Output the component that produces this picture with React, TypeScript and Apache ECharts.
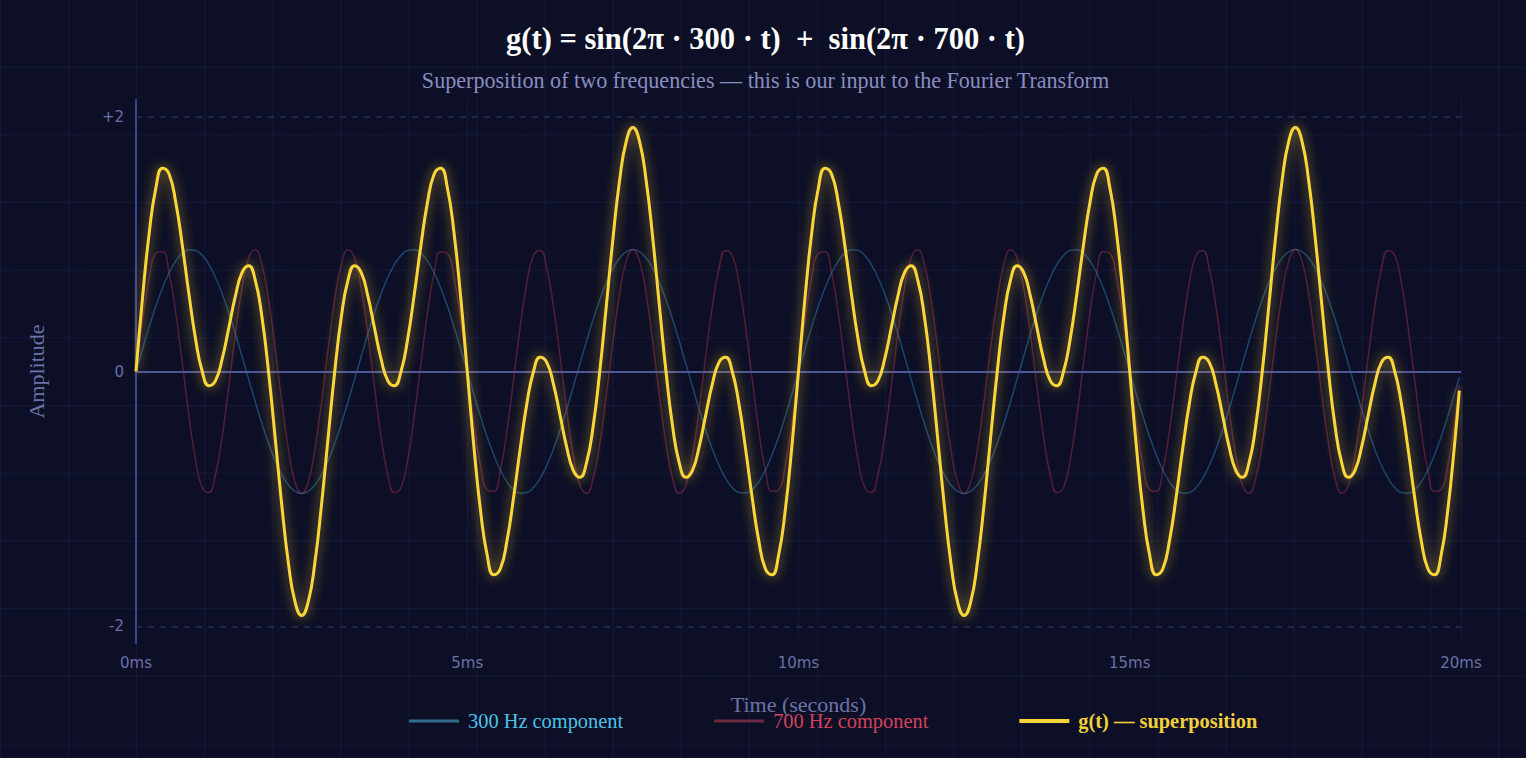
import React, { useEffect, useRef } from "react";
import * as echarts from "echarts";

// Time of each sample, in milliseconds
const T_MS = [
  0, 0.1, 0.2, 0.3, 0.4, 0.5, 0.6, 0.7, 0.8, 0.9,
  1, 1.1, 1.2, 1.3, 1.4, 1.5, 1.6, 1.7, 1.8, 1.9,
  2, 2.1, 2.2, 2.3, 2.4, 2.5, 2.6, 2.7, 2.8, 2.9,
  3, 3.1, 3.2, 3.3, 3.4, 3.5, 3.6, 3.7, 3.8, 3.9,
  4, 4.1, 4.2, 4.3, 4.4, 4.5, 4.6, 4.7, 4.8, 4.9,
  5, 5.1, 5.2, 5.3, 5.4, 5.5, 5.6, 5.7, 5.8, 5.9,
  6, 6.1, 6.2, 6.3, 6.4, 6.5, 6.6, 6.7, 6.8, 6.9,
  7, 7.1, 7.2, 7.3, 7.4, 7.5, 7.6, 7.7, 7.8, 7.9,
  8, 8.1, 8.2, 8.3, 8.4, 8.5, 8.6, 8.7, 8.8, 8.9,
  9, 9.1, 9.2, 9.3, 9.4, 9.5, 9.6, 9.7, 9.8, 9.9,
  10, 10.1, 10.2, 10.3, 10.4, 10.5, 10.6, 10.7, 10.8, 10.9,
  11, 11.1, 11.2, 11.3, 11.4, 11.5, 11.6, 11.7, 11.8, 11.9,
  12, 12.1, 12.2, 12.3, 12.4, 12.5, 12.6, 12.7, 12.8, 12.9,
  13, 13.1, 13.2, 13.3, 13.4, 13.5, 13.6, 13.7, 13.8, 13.9,
  14, 14.1, 14.2, 14.3, 14.4, 14.5, 14.6, 14.7, 14.8, 14.9,
  15, 15.1, 15.2, 15.3, 15.4, 15.5, 15.6, 15.7, 15.8, 15.9,
  16, 16.1, 16.2, 16.3, 16.4, 16.5, 16.6, 16.7, 16.8, 16.9,
  17, 17.1, 17.2, 17.3, 17.4, 17.5, 17.6, 17.7, 17.8, 17.9,
  18, 18.1, 18.2, 18.3, 18.4, 18.5, 18.6, 18.7, 18.8, 18.9,
  19, 19.1, 19.2, 19.3, 19.4, 19.5, 19.6, 19.7, 19.8, 19.9,
  19.975,
];

// 300 Hz component (values read against the picture's amplitude axis)
const WAVE_300 = [
  0, 0.179, 0.352, 0.513, 0.655, 0.774, 0.866, 0.927, 0.955, 0.949,
  0.91, 0.839, 0.737, 0.61, 0.461, 0.296, 0.12, -0.06, -0.238, -0.408,
  -0.563, -0.698, -0.808, -0.89, -0.94, -0.957, -0.94, -0.89, -0.808, -0.698,
  -0.563, -0.408, -0.238, -0.06, 0.12, 0.296, 0.461, 0.61, 0.737, 0.839,
  0.91, 0.949, 0.955, 0.927, 0.866, 0.774, 0.655, 0.513, 0.352, 0.179,
  0, -0.179, -0.352, -0.513, -0.655, -0.774, -0.866, -0.927, -0.955, -0.949,
  -0.91, -0.839, -0.737, -0.61, -0.461, -0.296, -0.12, 0.06, 0.238, 0.408,
  0.563, 0.698, 0.808, 0.89, 0.94, 0.957, 0.94, 0.89, 0.808, 0.698,
  0.563, 0.408, 0.238, 0.06, -0.12, -0.296, -0.461, -0.61, -0.737, -0.839,
  -0.91, -0.949, -0.955, -0.927, -0.866, -0.774, -0.655, -0.513, -0.352, -0.179,
  0, 0.179, 0.352, 0.513, 0.655, 0.774, 0.866, 0.927, 0.955, 0.949,
  0.91, 0.839, 0.737, 0.61, 0.461, 0.296, 0.12, -0.06, -0.238, -0.408,
  -0.563, -0.698, -0.808, -0.89, -0.94, -0.957, -0.94, -0.89, -0.808, -0.698,
  -0.563, -0.408, -0.238, -0.06, 0.12, 0.296, 0.461, 0.61, 0.737, 0.839,
  0.91, 0.949, 0.955, 0.927, 0.866, 0.774, 0.655, 0.513, 0.352, 0.179,
  0, -0.179, -0.352, -0.513, -0.655, -0.774, -0.866, -0.927, -0.955, -0.949,
  -0.91, -0.839, -0.737, -0.61, -0.461, -0.296, -0.12, 0.06, 0.238, 0.408,
  0.563, 0.698, 0.808, 0.89, 0.94, 0.957, 0.94, 0.89, 0.808, 0.698,
  0.563, 0.408, 0.238, 0.06, -0.12, -0.296, -0.461, -0.61, -0.737, -0.839,
  -0.91, -0.949, -0.955, -0.927, -0.866, -0.774, -0.655, -0.513, -0.352, -0.179,
  -0.045,
];

// 700 Hz component
const WAVE_700 = [
  0, 0.408, 0.737, 0.927, 0.94, 0.774, 0.461, 0.06, -0.352, -0.698,
  -0.91, -0.949, -0.808, -0.513, -0.12, 0.296, 0.655, 0.89, 0.955, 0.839,
  0.563, 0.179, -0.238, -0.61, -0.866, -0.957, -0.866, -0.61, -0.238, 0.179,
  0.563, 0.839, 0.955, 0.89, 0.655, 0.296, -0.12, -0.513, -0.808, -0.949,
  -0.91, -0.698, -0.352, 0.06, 0.461, 0.774, 0.94, 0.927, 0.737, 0.408,
  0, -0.408, -0.737, -0.927, -0.94, -0.774, -0.461, -0.06, 0.352, 0.698,
  0.91, 0.949, 0.808, 0.513, 0.12, -0.296, -0.655, -0.89, -0.955, -0.839,
  -0.563, -0.179, 0.238, 0.61, 0.866, 0.957, 0.866, 0.61, 0.238, -0.179,
  -0.563, -0.839, -0.955, -0.89, -0.655, -0.296, 0.12, 0.513, 0.808, 0.949,
  0.91, 0.698, 0.352, -0.06, -0.461, -0.774, -0.94, -0.927, -0.737, -0.408,
  0, 0.408, 0.737, 0.927, 0.94, 0.774, 0.461, 0.06, -0.352, -0.698,
  -0.91, -0.949, -0.808, -0.513, -0.12, 0.296, 0.655, 0.89, 0.955, 0.839,
  0.563, 0.179, -0.238, -0.61, -0.866, -0.957, -0.866, -0.61, -0.238, 0.179,
  0.563, 0.839, 0.955, 0.89, 0.655, 0.296, -0.12, -0.513, -0.808, -0.949,
  -0.91, -0.698, -0.352, 0.06, 0.461, 0.774, 0.94, 0.927, 0.737, 0.408,
  0, -0.408, -0.737, -0.927, -0.94, -0.774, -0.461, -0.06, 0.352, 0.698,
  0.91, 0.949, 0.808, 0.513, 0.12, -0.296, -0.655, -0.89, -0.955, -0.839,
  -0.563, -0.179, 0.238, 0.61, 0.866, 0.957, 0.866, 0.61, 0.238, -0.179,
  -0.563, -0.839, -0.955, -0.89, -0.655, -0.296, 0.12, 0.513, 0.808, 0.949,
  0.91, 0.698, 0.352, -0.06, -0.461, -0.774, -0.94, -0.927, -0.737, -0.408,
  -0.105,
];

// g(t) superposition
const SUPERPOSITION = [
  0, 0.587, 1.09, 1.44, 1.595, 1.548, 1.327, 0.987, 0.603, 0.252,
  0, -0.111, -0.071, 0.097, 0.341, 0.591, 0.775, 0.83, 0.717, 0.431,
  0, -0.518, -1.046, -1.5, -1.806, -1.914, -1.806, -1.5, -1.046, -0.518,
  0, 0.431, 0.717, 0.83, 0.775, 0.591, 0.341, 0.097, -0.071, -0.111,
  0, 0.252, 0.603, 0.987, 1.327, 1.548, 1.595, 1.44, 1.09, 0.587,
  0, -0.587, -1.09, -1.44, -1.595, -1.548, -1.327, -0.987, -0.603, -0.252,
  0, 0.111, 0.071, -0.097, -0.341, -0.591, -0.775, -0.83, -0.717, -0.431,
  0, 0.518, 1.046, 1.5, 1.806, 1.914, 1.806, 1.5, 1.046, 0.518,
  0, -0.431, -0.717, -0.83, -0.775, -0.591, -0.341, -0.097, 0.071, 0.111,
  0, -0.252, -0.603, -0.987, -1.327, -1.548, -1.595, -1.44, -1.09, -0.587,
  0, 0.587, 1.09, 1.44, 1.595, 1.548, 1.327, 0.987, 0.603, 0.252,
  0, -0.111, -0.071, 0.097, 0.341, 0.591, 0.775, 0.83, 0.717, 0.431,
  0, -0.518, -1.046, -1.5, -1.806, -1.914, -1.806, -1.5, -1.046, -0.518,
  0, 0.431, 0.717, 0.83, 0.775, 0.591, 0.341, 0.097, -0.071, -0.111,
  0, 0.252, 0.603, 0.987, 1.327, 1.548, 1.595, 1.44, 1.09, 0.587,
  0, -0.587, -1.09, -1.44, -1.595, -1.548, -1.327, -0.987, -0.603, -0.252,
  0, 0.111, 0.071, -0.097, -0.341, -0.591, -0.775, -0.83, -0.717, -0.431,
  0, 0.518, 1.046, 1.5, 1.806, 1.914, 1.806, 1.5, 1.046, 0.518,
  0, -0.431, -0.717, -0.83, -0.775, -0.591, -0.341, -0.097, 0.071, 0.111,
  0, -0.252, -0.603, -0.987, -1.327, -1.548, -1.595, -1.44, -1.09, -0.587,
  -0.15,
];

const Y_LABEL_VALUES = [-2, 0, 2];
const X_TICK_STEP_MS = 5;
const SERIES_NAMES = ["300 Hz component", "700 Hz component", "g(t) — superposition"];

const SERIF = '"Liberation Serif", "Times New Roman", serif';
const SANS = '"DejaVu Sans", sans-serif';

const pairs = (ys: number[]) => T_MS.map((t, i) => [t, ys[i]]);

export default function App() {
  const ref = useRef<HTMLDivElement>(null);

  useEffect(() => {
    if (!ref.current) return;
    const chart = echarts.init(ref.current, null, { renderer: "svg" });
    chart.setOption({
      animation: false,
      backgroundColor: "transparent",
      title: {
        text: "g(t) = sin(2π · 300 · t)  +  sin(2π · 700 · t)",
        subtext: "Superposition of two frequencies — this is our input to the Fourier Transform",
        left: 760.5,
        textAlign: "center",
        top: 18,
        itemGap: 15,
        textStyle: { color: "#ffffff", fontFamily: SERIF, fontWeight: "bold", fontSize: 30.5 },
        subtextStyle: { color: "#8a8dc0", fontFamily: SERIF, fontSize: 22.1 },
      },
      legend: {
        left: 404,
        top: 706,
        itemWidth: 50,
        itemHeight: 14,
        itemGap: 91,
        textStyle: { fontFamily: SERIF, fontSize: 20.4, padding: [0, 0, 0, 4] },
        data: [
          {
            name: SERIES_NAMES[0],
            icon: "path://M0,0H50V3H0Z",
            itemStyle: { color: "#2e6d8c" },
            textStyle: { color: "#4fc1e6" },
          },
          {
            name: SERIES_NAMES[1],
            icon: "path://M0,0H50V3H0Z",
            itemStyle: { color: "#6b2a40" },
            textStyle: { color: "#d3425c" },
          },
          {
            name: SERIES_NAMES[2],
            icon: "path://M0,0H50V4H0Z",
            itemStyle: { color: "#f7d43a" },
            textStyle: { color: "#f3cf3a", fontWeight: "bold" },
          },
        ],
      },
      grid: { left: 136, right: 65, top: 100, bottom: 115 },
      xAxis: {
        type: "value",
        min: 0,
        max: 20,
        interval: X_TICK_STEP_MS,
        name: "Time (seconds)",
        nameLocation: "middle",
        nameGap: 50,
        nameTextStyle: { color: "#6d72a8", fontFamily: SERIF, fontSize: 22 },
        axisLine: { show: false },
        axisTick: { show: false },
        axisLabel: {
          color: "#6b70a8",
          fontFamily: SANS,
          fontSize: 15,
          margin: 12,
          formatter: (v: number) => `${v}ms`,
        },
        splitLine: { show: true, lineStyle: { color: "rgba(70,80,170,0.16)", width: 1 } },
      },
      yAxis: {
        type: "value",
        min: -2.13,
        max: 2.13,
        name: "Amplitude",
        nameLocation: "middle",
        nameGap: 89,
        nameTextStyle: { color: "#6d72a8", fontFamily: SERIF, fontSize: 22 },
        axisLine: { show: true, lineStyle: { color: "#3a458e", width: 2 } },
        axisTick: { show: false },
        splitLine: { show: false },
        axisLabel: {
          customValues: Y_LABEL_VALUES,
          color: "#6b70a8",
          fontFamily: SANS,
          fontSize: 15,
          margin: 12,
          formatter: (v: number) => (v > 0 ? `+${v}` : `${v}`),
        },
      },
      series: [
        {
          name: SERIES_NAMES[0],
          type: "line",
          data: pairs(WAVE_300),
          smooth: true,
          symbol: "none",
          z: 2,
          itemStyle: { color: "#2e6d8c" },
          lineStyle: { color: "rgba(56,189,248,0.32)", width: 1.5 },
          markLine: {
            silent: true,
            symbol: ["none", "none"],
            label: { show: false },
            data: [
              { yAxis: 2, lineStyle: { type: [6, 6], color: "#262c5e", width: 1.5 } },
              { yAxis: -2, lineStyle: { type: [6, 6], color: "#262c5e", width: 1.5 } },
              { yAxis: 0, lineStyle: { type: "solid", color: "#4f5596", width: 2 } },
            ],
          },
        },
        {
          name: SERIES_NAMES[1],
          type: "line",
          data: pairs(WAVE_700),
          smooth: true,
          symbol: "none",
          z: 3,
          itemStyle: { color: "#6b2a40" },
          lineStyle: { color: "rgba(232,62,92,0.33)", width: 1.5 },
        },
        {
          name: SERIES_NAMES[2],
          type: "line",
          data: pairs(SUPERPOSITION),
          smooth: true,
          symbol: "none",
          z: 5,
          itemStyle: { color: "#f7d43a" },
          lineStyle: {
            color: "#fbd63a",
            width: 3,
            shadowColor: "rgba(255,205,40,0.75)",
            shadowBlur: 12,
          },
        },
      ],
    });
    return () => chart.dispose();
  }, []);

  return (
    <div
      style={{
        position: "fixed",
        left: 0,
        top: 0,
        width: "100vw",
        height: "100vh",
        backgroundColor: "#0c0f26",
        backgroundImage:
          "linear-gradient(rgba(60,70,165,0.16) 1px, transparent 1px), linear-gradient(90deg, rgba(60,70,165,0.16) 1px, transparent 1px)",
        backgroundSize: "68.1px 67.7px",
        backgroundPosition: "0 -1px",
      }}
    >
      <div ref={ref} style={{ width: "100%", height: "100%" }} />
    </div>
  );
}
